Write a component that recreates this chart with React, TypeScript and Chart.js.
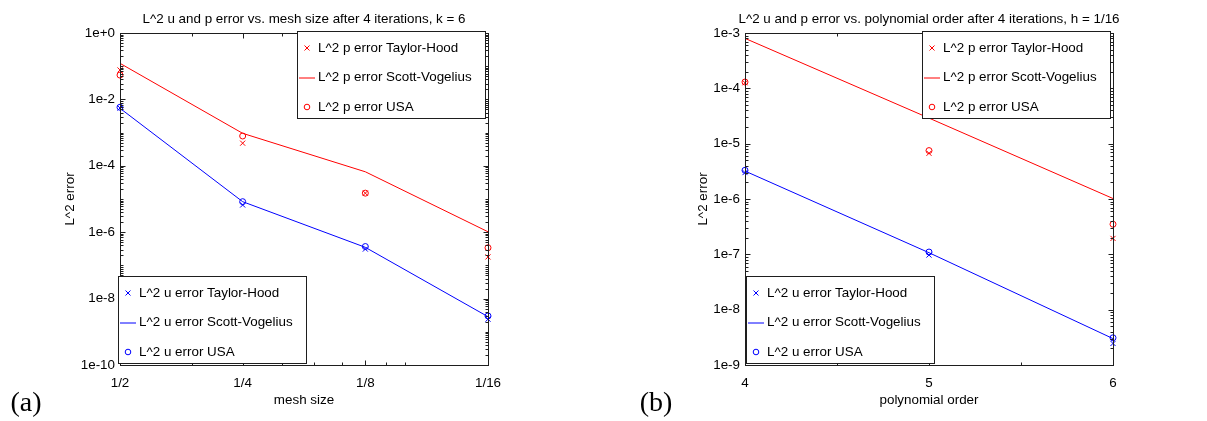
import React, { useEffect, useRef } from "react";
import { Chart, registerables } from "chart.js";

Chart.register(...registerables);

const RED = "rgb(255,0,0)";
const BLUE = "rgb(0,0,255)";
const AXIS = "#1e1e1e";
const FONT = "'Liberation Sans', Arial, Helvetica, sans-serif";
const FS = 13.4;

// ---------- Panel (a): error vs mesh size ----------
const meshLabels = ["1/2", "1/4", "1/8", "1/16"];
const meshInverse = [2, 4, 8, 16];
const meshMinorTicks = [3, 5, 6, 7, 9, 10];
const pTaylorHoodA = [0.077, 4.8e-4, 1.5e-5, 1.8e-7];
const pScottVogeliusA = [0.122, 9.5e-4, 6.6e-5, 1.03e-6];
const pUSAA = [0.054, 7.9e-4, 1.5e-5, 3.4e-7];
const uTaylorHoodA = [5.5e-3, 6.6e-6, 3.1e-7, 2.4e-9];
const uScottVogeliusA = [5.4e-3, 8.3e-6, 3.5e-7, 2.85e-9];
const uUSAA = [5.8e-3, 8.3e-6, 3.7e-7, 3.0e-9];
const yTicksA = [1, 1e-2, 1e-4, 1e-6, 1e-8, 1e-10];
const yTickLabelsA = ["1e+0", "1e-2", "1e-4", "1e-6", "1e-8", "1e-10"];

// ---------- Panel (b): error vs polynomial order ----------
const polyOrder = [4, 5, 6];
const polyLabels = ["4", "5", "6"];
const polyMinorTicks = [4.5, 5.5];
const pTaylorHoodB = [1.26e-4, 6.7e-6, 1.94e-7];
const pScottVogeliusB = [8.0e-4, 2.9e-5, 1.02e-6];
const pUSAB = [1.3e-4, 7.5e-6, 3.5e-7];
const uTaylorHoodB = [3.0e-6, 9.7e-8, 2.45e-9];
const uScottVogeliusB = [3.2e-6, 1.07e-7, 3.0e-9];
const uUSAB = [3.3e-6, 1.1e-7, 3.1e-9];
const yTicksB = [1e-3, 1e-4, 1e-5, 1e-6, 1e-7, 1e-8, 1e-9];
const yTickLabelsB = ["1e-3", "1e-4", "1e-5", "1e-6", "1e-7", "1e-8", "1e-9"];

const seriesNames = [
  "L^2 p error Taylor-Hood",
  "L^2 p error Scott-Vogelius",
  "L^2 p error USA",
  "L^2 u error Taylor-Hood",
  "L^2 u error Scott-Vogelius",
  "L^2 u error USA",
];

type Kind = "cross" | "line" | "circle";

function makeDatasets(xs: number[], vals: number[][]) {
  const kinds: Kind[] = ["cross", "line", "circle", "cross", "line", "circle"];
  return vals.map((v, k) => {
    const color = k < 3 ? RED : BLUE;
    const kind = kinds[k];
    return {
      label: seriesNames[k],
      data: xs.map((x, i) => ({ x, y: v[i] })),
      showLine: kind === "line",
      borderColor: color,
      backgroundColor: "rgba(0,0,0,0)",
      borderWidth: 1,
      pointRadius: kind === "line" ? 0 : kind === "cross" ? 3.6 : 3,
      pointHoverRadius: 0,
      pointStyle: kind === "cross" ? "crossRot" : "circle",
      pointBorderColor: color,
      pointBackgroundColor: "rgba(0,0,0,0)",
      pointBorderWidth: 1,
      clip: false,
      kind,
      group: k < 3 ? "top" : "bottom",
    };
  });
}

function drawMarker(ctx: CanvasRenderingContext2D, kind: Kind, x: number, y: number, color: string) {
  ctx.save();
  ctx.strokeStyle = color;
  ctx.lineWidth = 1;
  ctx.beginPath();
  if (kind === "cross") {
    const r = 2.5;
    ctx.moveTo(x - r, y - r);
    ctx.lineTo(x + r, y + r);
    ctx.moveTo(x + r, y - r);
    ctx.lineTo(x - r, y + r);
  } else if (kind === "circle") {
    ctx.arc(x, y, 2.8, 0, Math.PI * 2);
  } else {
    ctx.moveTo(x - 8, y + 0.5);
    ctx.lineTo(x + 8, y + 0.5);
  }
  ctx.stroke();
  ctx.restore();
}

const matlabFrame = {
  id: "matlabFrame",
  afterDatasetsDraw(chart: any, _args: any, opts: any) {
    const { ctx, chartArea: a } = chart;
    const xs = chart.scales.x;
    const ys = chart.scales.y;
    const L = Math.round(a.left) + 0.5;
    const R = Math.round(a.right) + 0.5;
    const T = Math.round(a.top) + 0.5;
    const B = Math.round(a.bottom) + 0.5;
    ctx.save();
    ctx.strokeStyle = AXIS;
    ctx.lineWidth = 1;
    ctx.beginPath();
    const xTick = (v: number, len: number) => {
      const px = Math.round(xs.getPixelForValue(v)) + 0.5;
      ctx.moveTo(px, B);
      ctx.lineTo(px, B - len);
      ctx.moveTo(px, T);
      ctx.lineTo(px, T + len);
    };
    (opts.xMajor || []).forEach((v: number) => xTick(v, 5));
    (opts.xMinor || []).forEach((v: number) => xTick(v, 3));
    const lo = Math.round(Math.log10(ys.min));
    const hi = Math.round(Math.log10(ys.max));
    const majorLogs = (opts.yMajor || []).map((v: number) => Math.round(Math.log10(v)));
    for (let d = lo; d <= hi; d++) {
      for (let m = 1; m <= 9; m++) {
        const v = m * Math.pow(10, d);
        if (v < ys.min * 0.999 || v > ys.max * 1.001) continue;
        const len = m === 1 && majorLogs.includes(d) ? 5 : 3;
        const py = Math.round(ys.getPixelForValue(v)) + 0.5;
        ctx.moveTo(L, py);
        ctx.lineTo(L + len, py);
        ctx.moveTo(R, py);
        ctx.lineTo(R - len, py);
      }
    }
    ctx.stroke();
    ctx.strokeRect(L, T, R - L, B - T);

    // title
    ctx.fillStyle = "#000";
    ctx.font = `${FS}px ${FONT}`;
    ctx.textAlign = "center";
    ctx.textBaseline = "middle";
    ctx.fillText(opts.title, (a.left + a.right) / 2, opts.titleY);

    // panel label
    ctx.font = `28px 'Liberation Serif', 'Times New Roman', serif`;
    ctx.fillText(opts.panelLabel, opts.panelX, opts.panelY);
    ctx.restore();
  },
  afterDraw(chart: any, _args: any, opts: any) {
    const { ctx, chartArea: a } = chart;
    const W = 189;
    const H = 88;
    const boxes = [
      { g: "top", left: Math.round(a.right) - 191, top: Math.round(a.top) - 2 },
      { g: "bottom", left: Math.round(a.left) + (opts.bottomLegendDx || 0), top: Math.round(a.bottom) - 89 },
    ];
    const rows = [17, 46.5, 76];
    ctx.save();
    for (const b of boxes) {
      const items = chart.data.datasets.filter((d: any) => d.group === b.g);
      ctx.fillStyle = "#fff";
      ctx.fillRect(b.left, b.top, W, H);
      ctx.strokeStyle = AXIS;
      ctx.lineWidth = 1;
      ctx.strokeRect(b.left + 0.5, b.top + 0.5, W - 1, H - 1);
      items.forEach((d: any, i: number) => {
        const y = b.top + rows[i];
        drawMarker(ctx, d.kind, b.left + 10, y, d.borderColor);
        ctx.fillStyle = "#000";
        ctx.font = `${FS}px ${FONT}`;
        ctx.textAlign = "left";
        ctx.textBaseline = "middle";
        ctx.fillText(d.label, b.left + 21, y);
      });
    }
    ctx.restore();
  },
};

function makeConfig(p: {
  xs: number[];
  vals: number[][];
  xType: string;
  xMin: number;
  xMax: number;
  xLabels: string[];
  xMinor: number[];
  xTitle: string;
  yMin: number;
  yMax: number;
  yTicks: number[];
  yLabels: string[];
  yAxisWidth: number;
  yTitlePad: number;
  rightPad: number;
  title: string;
  panelLabel: string;
  panelX: number;
  bottomLegendDx: number;
}): any {
  const tickFont = { family: FONT, size: FS };
  return {
    type: "scatter",
    data: { datasets: makeDatasets(p.xs, p.vals) },
    options: {
      responsive: false,
      animation: false,
      events: [],
      layout: { padding: { left: 0, right: p.rightPad, top: 33, bottom: 0 } },
      plugins: {
        legend: { display: false },
        tooltip: { enabled: false },
        title: { display: false },
        matlabFrame: {
          xMajor: p.xs,
          xMinor: p.xMinor,
          yMajor: p.yTicks,
          title: p.title,
          titleY: 19,
          panelLabel: p.panelLabel,
          panelX: p.panelX,
          panelY: 404,
          bottomLegendDx: p.bottomLegendDx,
        },
      },
      scales: {
        x: {
          type: p.xType,
          position: "bottom",
          min: p.xMin,
          max: p.xMax,
          afterBuildTicks: (s: any) => {
            s.ticks = p.xs.map((v) => ({ value: v }));
          },
          afterFit: (s: any) => {
            s.height = 56;
          },
          ticks: {
            autoSkip: false,
            maxRotation: 0,
            padding: 10,
            color: "#000",
            font: tickFont,
            callback: (_v: any, i: number) => p.xLabels[i],
          },
          grid: { display: false, drawTicks: false },
          border: { display: false },
          title: {
            display: true,
            text: p.xTitle,
            color: "#000",
            font: tickFont,
            padding: { top: 0, bottom: 13 },
          },
        },
        y: {
          type: "logarithmic",
          position: "left",
          min: p.yMin,
          max: p.yMax,
          afterBuildTicks: (s: any) => {
            s.ticks = p.yTicks.map((v) => ({ value: v }));
          },
          afterFit: (s: any) => {
            s.width = p.yAxisWidth;
          },
          ticks: {
            autoSkip: false,
            padding: 5,
            color: "#000",
            font: tickFont,
            callback: (_v: any, i: number) => p.yLabels[i],
          },
          grid: { display: false, drawTicks: false },
          border: { display: false },
          title: {
            display: true,
            text: "L^2 error",
            color: "#000",
            font: tickFont,
            padding: { top: p.yTitlePad, bottom: 0 },
          },
        },
      },
    },
    plugins: [matlabFrame],
  };
}

export default function App() {
  const refA = useRef<HTMLCanvasElement | null>(null);
  const refB = useRef<HTMLCanvasElement | null>(null);

  useEffect(() => {
    Chart.defaults.font.family = FONT;
    const chartA = new Chart(
      refA.current as HTMLCanvasElement,
      makeConfig({
        xs: meshInverse,
        vals: [pTaylorHoodA, pScottVogeliusA, pUSAA, uTaylorHoodA, uScottVogeliusA, uUSAA],
        xType: "logarithmic",
        xMin: 2,
        xMax: 16,
        xLabels: meshLabels,
        xMinor: meshMinorTicks,
        xTitle: "mesh size",
        yMin: 1e-10,
        yMax: 1,
        yTicks: yTicksA,
        yLabels: yTickLabelsA,
        yAxisWidth: 120,
        yTitlePad: 62,
        rightPad: 112,
        title: "L^2 u and p error vs. mesh size after 4 iterations, k = 6",
        panelLabel: "(a)",
        panelX: 26,
        bottomLegendDx: -2,
      })
    );
    const chartB = new Chart(
      refB.current as HTMLCanvasElement,
      makeConfig({
        xs: polyOrder,
        vals: [pTaylorHoodB, pScottVogeliusB, pUSAB, uTaylorHoodB, uScottVogeliusB, uUSAB],
        xType: "linear",
        xMin: 4,
        xMax: 6,
        xLabels: polyLabels,
        xMinor: polyMinorTicks,
        xTitle: "polynomial order",
        yMin: 1e-9,
        yMax: 1e-3,
        yTicks: yTicksB,
        yLabels: yTickLabelsB,
        yAxisWidth: 145,
        yTitlePad: 95,
        rightPad: 94,
        title: "L^2 u and p error vs. polynomial order after 4 iterations, h = 1/16",
        panelLabel: "(b)",
        panelX: 56,
        bottomLegendDx: 1,
      })
    );
    return () => {
      chartA.destroy();
      chartB.destroy();
    };
  }, []);

  return (
    <div
      style={{
        position: "fixed",
        left: 0,
        top: 0,
        width: 1207,
        height: 421,
        background: "#fff",
        overflow: "hidden",
      }}
    >
      <canvas
        ref={refA}
        width={600}
        height={421}
        style={{ position: "absolute", left: 0, top: 0, width: 600, height: 421 }}
      />
      <canvas
        ref={refB}
        width={607}
        height={421}
        style={{ position: "absolute", left: 600, top: 0, width: 607, height: 421 }}
      />
    </div>
  );
}
